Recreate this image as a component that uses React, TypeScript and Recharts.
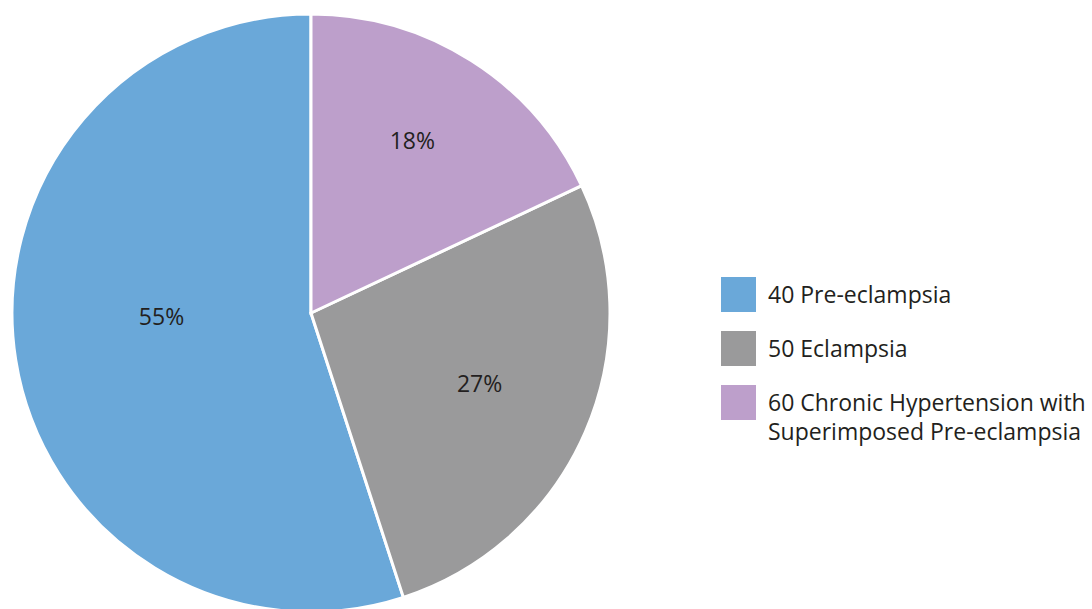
import { PieChart, Pie, Cell } from 'recharts';

const categories = ['40 Pre-eclampsia', '50 Eclampsia', '60 Chronic Hypertension with\nSuperimposed Pre-eclampsia'];
const shares = [55, 27, 18];
const colors = ['#6AA8D9', '#9A9A9B', '#BD9FCB'];
// label placement tweaks (fraction of radius, angle nudge in degrees)
const labelRadius = [0.5, 0.61, 0.67];
const labelNudge = [-8, 1, 2];

const data = categories.map((name, i) => ({ name, value: shares[i] }));

const FONT = '"Open Sans", "Noto Sans", sans-serif';
const RAD = Math.PI / 180;

const renderLabel = ({ cx, cy, midAngle, outerRadius, index }: any) => {
    const a = (midAngle + labelNudge[index]) * RAD;
    const r = outerRadius * labelRadius[index];
    const x = cx + r * Math.cos(a);
    const y = cy - r * Math.sin(a);
    return (
        <text x={x} y={y} textAnchor="middle" dominantBaseline="central" fill="#231F20" fontSize={23} fontFamily={FONT}>
            {`${shares[index]}%`}
        </text>
    );
};

export default function App() {
    return (
        <div style={{ position: 'absolute', left: 0, top: 0, width: 1092, height: 609, background: '#fff' }}>
            <PieChart width={1092} height={609} margin={{ top: 0, right: 0, bottom: 0, left: 0 }}>
                <Pie
                    data={data}
                    dataKey="value"
                    cx={311}
                    cy={313}
                    outerRadius={299}
                    startAngle={90}
                    endAngle={450}
                    stroke="#fff"
                    strokeWidth={3}
                    label={renderLabel}
                    labelLine={false}
                    isAnimationActive={false}
                >
                    {data.map((d, i) => (
                        <Cell key={d.name} fill={colors[i]} />
                    ))}
                </Pie>
            </PieChart>
            {/* legend, drawn outside the chart so it doesn't shift the pie */}
            <div style={{ position: 'absolute', left: 721, top: 277, width: 371, fontFamily: FONT, fontSize: 23, color: '#231F20' }}>
                {categories.map((c, i) => (
                    <div key={c} style={{ display: 'flex', alignItems: 'flex-start', marginBottom: 19 }}>
                        <div style={{ width: 35, height: 35, background: colors[i], flexShrink: 0 }} />
                        <div style={{ marginLeft: 12, lineHeight: '29px', marginTop: 3, whiteSpace: 'pre' }}>{c}</div>
                    </div>
                ))}
            </div>
        </div>
    );
}
